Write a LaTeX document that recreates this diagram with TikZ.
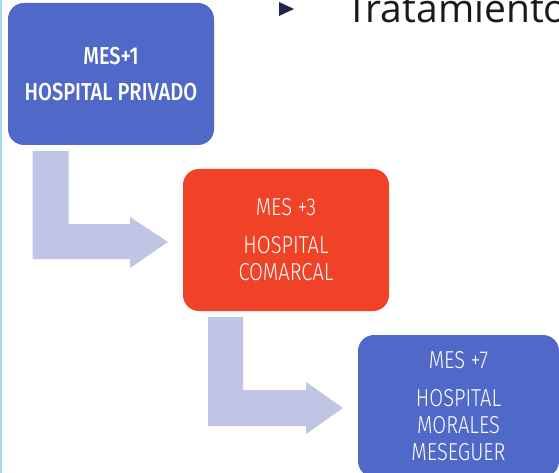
\documentclass[tikz,border=0pt]{standalone}
\usepackage{fontspec}
\newfontfamily\boxfont[FakeStretch=0.82]{Fira Sans Light}
\newfontfamily\boxfontbold[FakeStretch=0.82]{Fira Sans Medium}
\newfontfamily\titlefont{Open Sans}
\definecolor{stepblue}{HTML}{5068C8}
\definecolor{stepred}{HTML}{F04226}
\definecolor{flowarrow}{HTML}{C0C5E6}
\definecolor{edgeblue}{HTML}{AED8F2}
\definecolor{bulletnavy}{HTML}{222648}
\definecolor{titleink}{HTML}{1A1A1A}
\tikzset{
  stepbox/.style={rectangle, rounded corners=16pt, inner sep=0pt,
    minimum width=#1, minimum height=142pt, text=white, align=center,
    font=\boxfont\fontsize{24.5}{27}\selectfont},
  bentarrow/.style={fill=flowarrow, draw=none}
}
\begin{document}
\begin{tikzpicture}[x=1pt, y=-1pt]
  \useasboundingbox (0,0) rectangle (559,473);
  \fill[white] (0,0) rectangle (559,473);
  % thin rule along the left edge
  \fill[edgeblue] (0,0) rectangle (1.5,473);

  % bullet and heading
  \fill[bulletnavy] (279,2) -- (294,9) -- (279,16) -- cycle;
  \node[anchor=base west, inner sep=0pt, text=titleink,
        font=\titlefont\fontsize{39}{42}\selectfont] (title) at (346,23) {Tratamiento};

  % the three stages
  \node[stepbox=206pt, fill=stepblue, font=\boxfontbold\fontsize{24.5}{27}\selectfont]
    (mes1) at (111,74) {MES+1\\[9pt]HOSPITAL PRIVADO};
  \node[stepbox=206pt, fill=stepred] (mes3) at (286,240)
    {MES +3\\[11pt]HOSPITAL\\COMARCAL};
  \node[stepbox=201pt, fill=stepblue] (mes7) at (458.5,406)
    {MES +7\\[11pt]HOSPITAL\\MORALES\\MESEGUER};

  % bent arrows leading from one stage to the next
  \fill[bentarrow] (32.5,151) -- (68.5,151) -- (68.5,224) -- (130,224) -- (130,217)
    -- (168,242) -- (130,268) -- (130,259) -- (32.5,259) -- cycle;
  \fill[bentarrow] (208,317) -- (243,317) -- (243,390) -- (306,390) -- (306,382)
    -- (343,408) -- (306,434) -- (306,426) -- (208,426) -- cycle;
\end{tikzpicture}
\end{document}
